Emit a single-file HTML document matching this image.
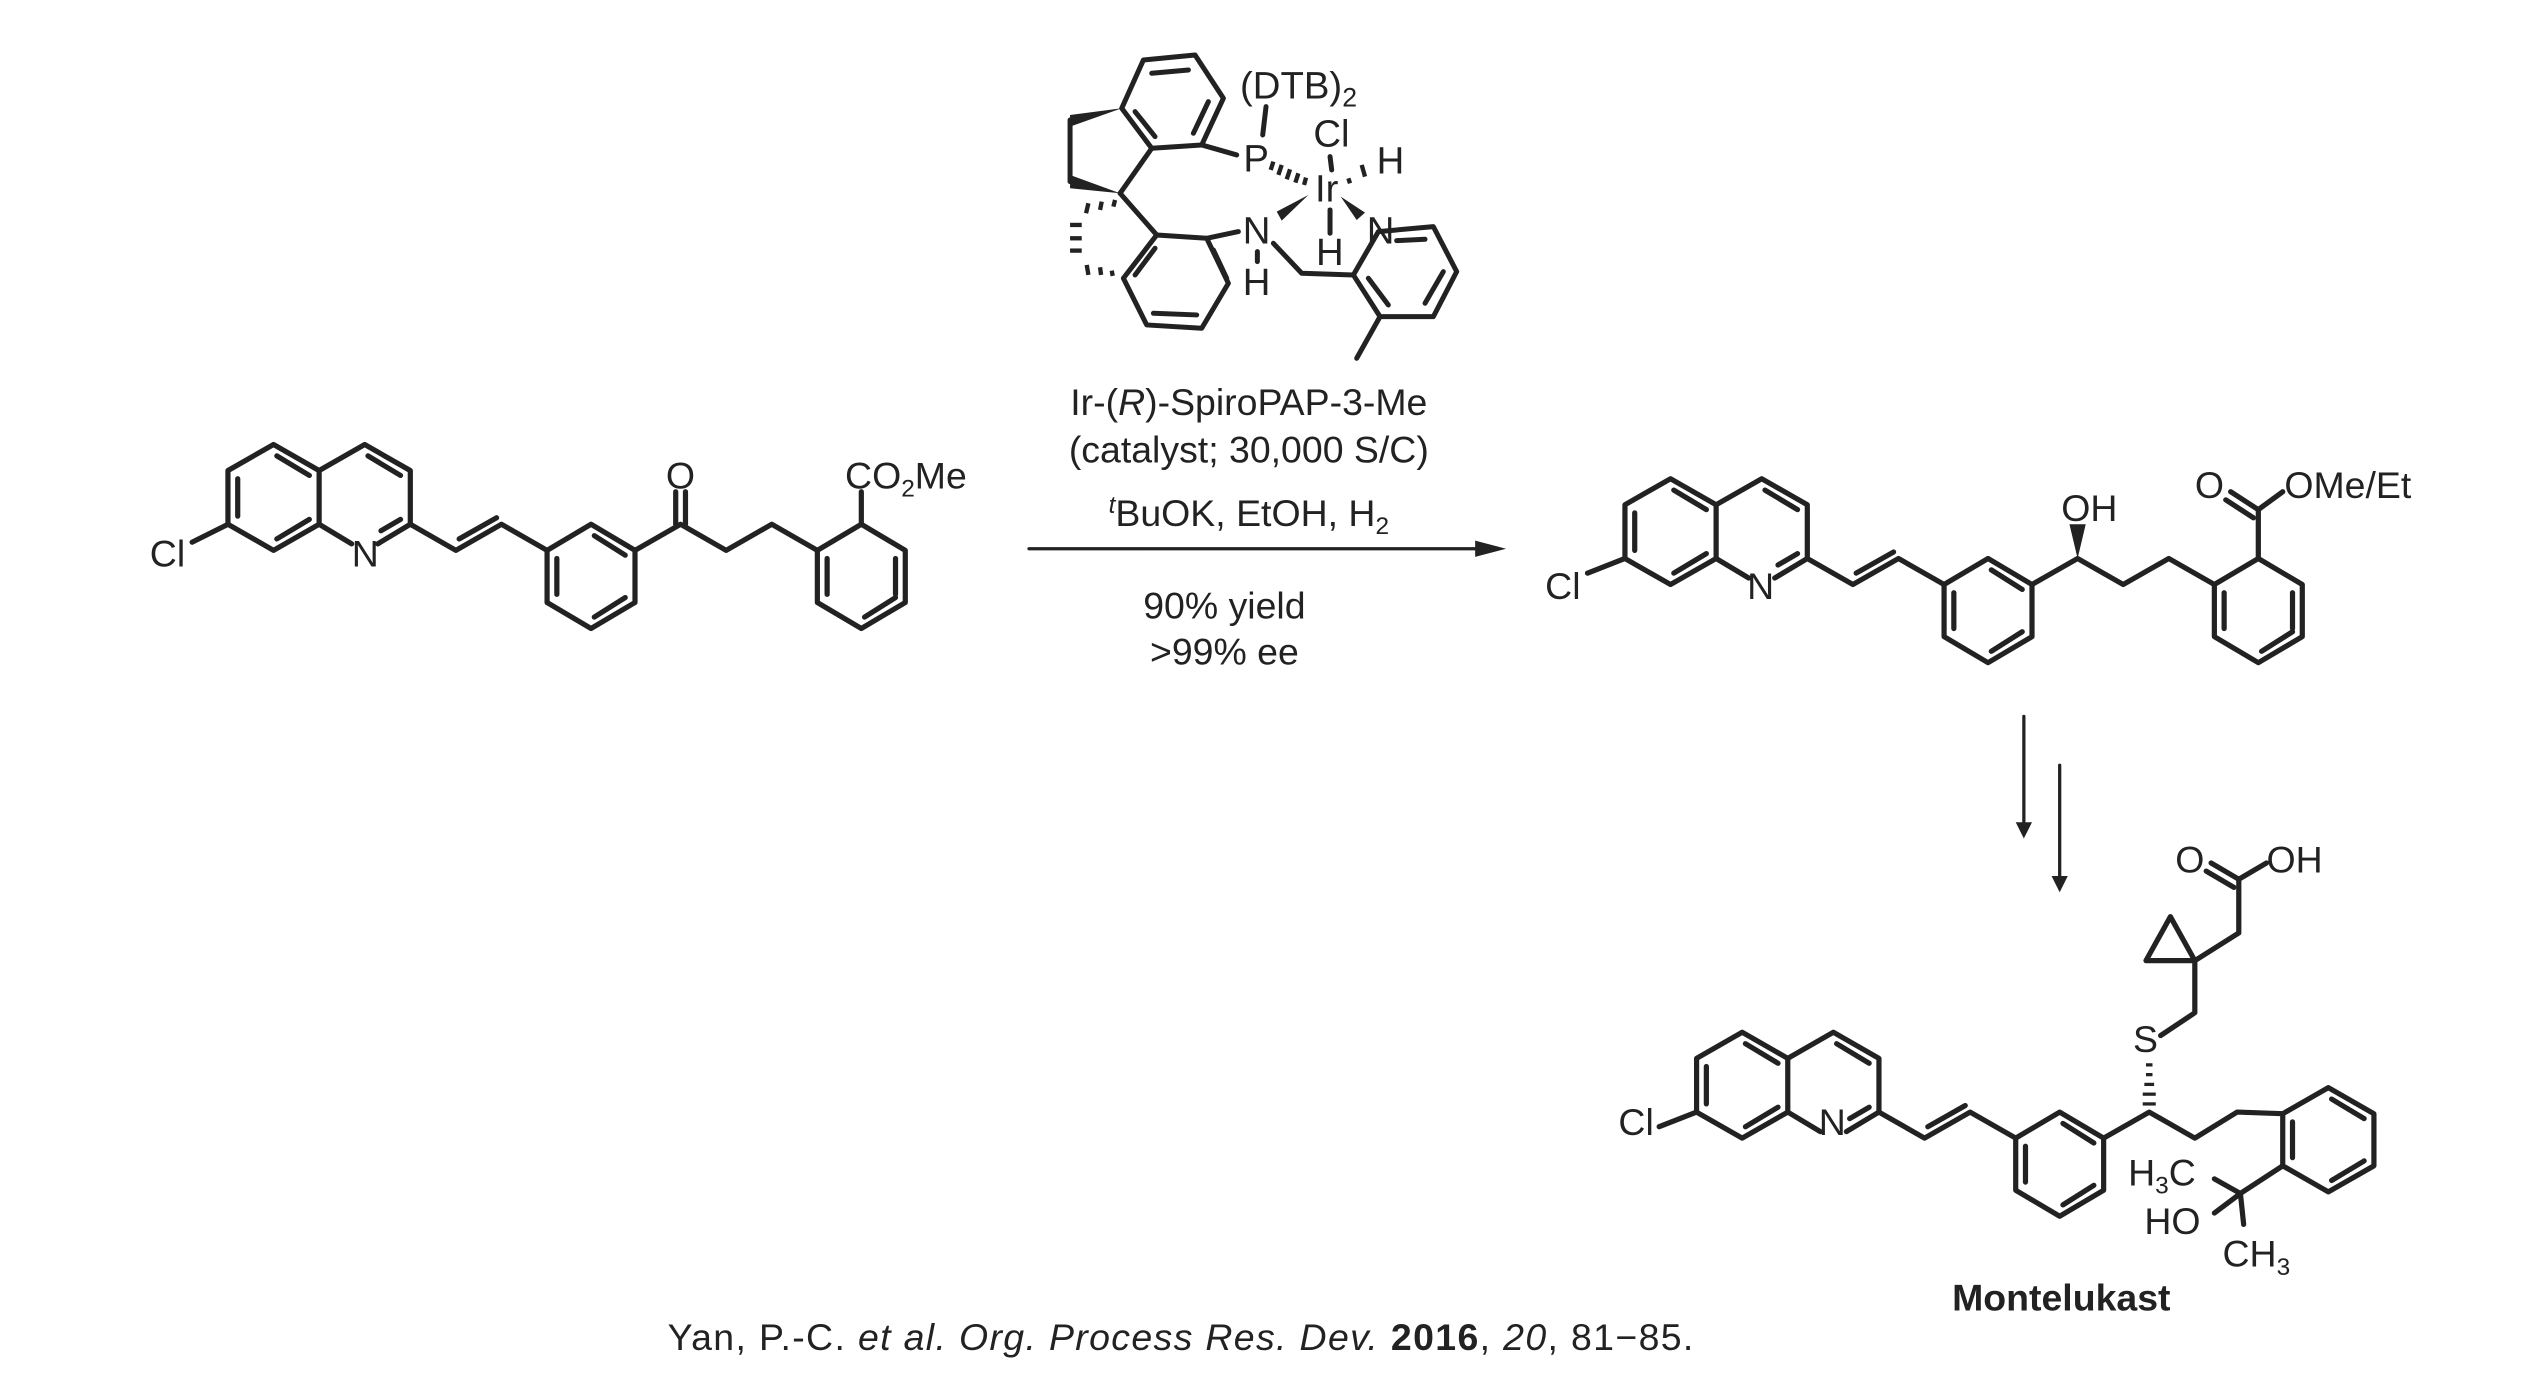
<!DOCTYPE html>
<html><head><meta charset="utf-8"><style>
html,body{margin:0;padding:0;background:#fff}
svg{display:block}
text{font-family:"Liberation Sans",sans-serif;fill:#222}
</style></head><body>
<svg width="2540" height="1384" viewBox="0 0 1560 850" xmlns="http://www.w3.org/2000/svg">
<g stroke="#222" stroke-width="3.2" fill="none" stroke-linejoin="round" stroke-linecap="round">
<!-- LEFT MOLECULE -->
<polygon points="140,289 168,273 196,289 196,322 168,338 140,322"/>
<polyline points="196,289 224,273 252,289 252,322 232,334"/>
<line x1="196" y1="322" x2="216" y2="334"/>
<line x1="146" y1="294" x2="146" y2="317"/><line x1="170" y1="280" x2="190" y2="292"/><line x1="170" y1="331" x2="190" y2="319"/>
<line x1="226" y1="280" x2="246" y2="292"/><line x1="246" y1="319" x2="234" y2="326"/>
<line x1="118" y1="333" x2="140" y2="322"/>
<polyline points="252,322 280,338 308,322 336,338"/>
<line x1="282" y1="331" x2="305" y2="318"/>
<polygon points="336,338 363,322 390,338 390,370 363,386 336,370"/>
<line x1="342" y1="343" x2="342" y2="365"/><line x1="365" y1="329" x2="384" y2="341"/><line x1="365" y1="379" x2="384" y2="367"/>
<polyline points="390,338 418,322 446,338 474,322 502,338"/>
<line x1="415" y1="322" x2="415" y2="302"/><line x1="421" y1="322" x2="421" y2="302"/>
<polygon points="502,338 529,322 556,338 556,370 529,386 502,370"/>
<line x1="550" y1="343" x2="550" y2="365"/><line x1="508" y1="343" x2="508" y2="365"/><line x1="531" y1="379" x2="550" y2="367"/>
<line x1="529" y1="322" x2="529" y2="302"/>
<!-- ARROW -->
<line x1="632" y1="337" x2="912" y2="337" stroke-width="2"/>
<!-- PRODUCT -->
<polygon points="998,310 1026,294 1054,310 1054,343 1026,359 998,343"/>
<polyline points="1054,310 1082,294 1110,310 1110,343 1090,355"/>
<line x1="1054" y1="343" x2="1074" y2="355"/>
<line x1="1004" y1="315" x2="1004" y2="338"/><line x1="1028" y1="301" x2="1048" y2="313"/><line x1="1028" y1="352" x2="1048" y2="340"/>
<line x1="1084" y1="301" x2="1104" y2="313"/><line x1="1104" y1="340" x2="1092" y2="347"/>
<line x1="975" y1="352" x2="998" y2="343"/>
<polyline points="1110,343 1138,359 1166,343 1194,359"/>
<line x1="1140" y1="352" x2="1163" y2="339"/>
<polygon points="1194,359 1221,343 1248,359 1248,391 1221,407 1194,391"/>
<line x1="1200" y1="364" x2="1200" y2="386"/><line x1="1223" y1="350" x2="1242" y2="362"/><line x1="1223" y1="400" x2="1242" y2="388"/>
<polyline points="1248,359 1276,343 1304,359 1332,343 1360,359"/>
<polygon points="1360,359 1387,343 1414,359 1414,391 1387,407 1360,391"/>
<line x1="1408" y1="364" x2="1408" y2="386"/><line x1="1366" y1="364" x2="1366" y2="386"/><line x1="1389" y1="400" x2="1408" y2="388"/>
<line x1="1387" y1="343" x2="1387" y2="313"/>
<line x1="1387" y1="313" x2="1370" y2="302"/><line x1="1384" y1="318" x2="1367" y2="307"/>
<line x1="1387" y1="313" x2="1402" y2="302"/>
<!-- down arrows -->
<line x1="1243" y1="440" x2="1243" y2="505" stroke-width="2"/>
<line x1="1265" y1="470" x2="1265" y2="538" stroke-width="2"/>
<!-- MONTELUKAST -->
<polygon points="1042,650 1070,634 1098,650 1098,683 1070,699 1042,683"/>
<polyline points="1098,650 1126,634 1154,650 1154,683 1134,695"/>
<line x1="1098" y1="683" x2="1118" y2="695"/>
<line x1="1048" y1="655" x2="1048" y2="678"/><line x1="1072" y1="641" x2="1092" y2="653"/><line x1="1072" y1="692" x2="1092" y2="680"/>
<line x1="1128" y1="641" x2="1148" y2="653"/><line x1="1148" y1="680" x2="1136" y2="687"/>
<line x1="1019" y1="692" x2="1042" y2="683"/>
<polyline points="1154,683 1182,699 1210,683 1238,699"/>
<line x1="1184" y1="692" x2="1207" y2="679"/>
<polygon points="1238,699 1265,683 1292,699 1292,731 1265,747 1238,731"/>
<line x1="1244" y1="704" x2="1244" y2="726"/><line x1="1267" y1="690" x2="1286" y2="702"/><line x1="1267" y1="740" x2="1286" y2="728"/>
<polyline points="1292,699 1320,683 1348,699 1374,683 1402,684"/>
<polygon points="1402,684 1430,668 1458,684 1458,716 1430,732 1402,716"/>
<line x1="1408" y1="689" x2="1408" y2="711"/><line x1="1432" y1="675" x2="1452" y2="687"/><line x1="1432" y1="725" x2="1452" y2="713"/>
<line x1="1402" y1="716" x2="1376" y2="733"/>
<line x1="1376" y1="733" x2="1360" y2="724"/><line x1="1376" y1="733" x2="1360" y2="745"/><line x1="1376" y1="733" x2="1378" y2="752"/>
<polyline points="1327,636 1348,622 1348,590"/>
<polygon points="1348,590 1318,590 1333,563"/>
<polyline points="1348,590 1375,573 1375,540 1392,530"/>
<line x1="1375" y1="540" x2="1358" y2="530"/><line x1="1372" y1="545" x2="1355" y2="535"/>
</g>
<g stroke="#222" stroke-width="2">
<line x1="1316" y1="678" x2="1324" y2="678"/><line x1="1316" y1="672" x2="1324" y2="672"/><line x1="1317" y1="666" x2="1323" y2="666"/><line x1="1318" y1="660" x2="1322" y2="660"/><line x1="1318" y1="654" x2="1322" y2="654"/>
</g>
<polygon points="1276,343 1271,322 1281,322" fill="#222"/>
<polygon points="906,332 925,337 906,342" fill="#222"/>
<polygon points="1238,505 1243,515 1248,505" fill="#222"/>
<polygon points="1260,538 1265,548 1270,538" fill="#222"/>
<!-- labels -->
<g font-size="23">
<text x="92" y="348">Cl</text>
<text x="216" y="348">N</text>
<text x="409" y="300">O</text>
<text x="519" y="300">CO<tspan font-size="15" dy="5">2</tspan><tspan dy="-5">Me</tspan></text>
<text x="949" y="368">Cl</text>
<text x="1073" y="368">N</text>
<text x="1266" y="320">OH</text>
<text x="1348" y="306">O</text>
<text x="1403" y="306">OMe/Et</text>
<text x="994" y="697">Cl</text>
<text x="1117" y="697">N</text>
<text x="1310" y="646">S</text>
<text x="1336" y="536">O</text>
<text x="1392" y="536">OH</text>
<text x="1307" y="728">H<tspan font-size="15" dy="5">3</tspan><tspan dy="-5">C</tspan></text>
<text x="1317" y="758">HO</text>
<text x="1365" y="778">CH<tspan font-size="15" dy="5">3</tspan></text>
<text x="1266" y="805" text-anchor="middle" font-weight="bold">Montelukast</text>
<text x="767" y="255" text-anchor="middle">Ir-(<tspan font-style="italic">R</tspan>)-SpiroPAP-3-Me</text>
<text x="767" y="284" text-anchor="middle">(catalyst; 30,000 S/C)</text>
<text x="767" y="323" text-anchor="middle"><tspan font-size="15" font-style="italic" dy="-8">t</tspan><tspan dy="8">BuOK, EtOH, H</tspan><tspan font-size="15" dy="5">2</tspan></text>
<text x="752" y="380" text-anchor="middle">90% yield</text>
<text x="752" y="408" text-anchor="middle">&gt;99% ee</text>
<text x="410" y="829" textLength="630" lengthAdjust="spacing">Yan, P.-C. <tspan font-style="italic">et al. Org. Process Res. Dev.</tspan> <tspan font-weight="bold">2016</tspan>, <tspan font-style="italic">20</tspan>, 81−85.</text>
</g>
<!-- CATALYST -->
<g transform="translate(626.5,18.4) scale(0.2047)">
<g stroke="#222" stroke-width="15" fill="none" stroke-linejoin="round" stroke-linecap="round">
<polygon points="370,90 525,75 610,205 545,345 395,355 305,235"/>
<line x1="395" y1="130" x2="505" y2="120"/><line x1="565" y1="215" x2="520" y2="310"/><line x1="345" y1="245" x2="405" y2="320"/>
<line x1="150" y1="270" x2="150" y2="455"/>
<line x1="395" y1="355" x2="300" y2="490"/>
<polygon points="410,615 560,625 625,760 545,895 380,885 310,745"/>
<line x1="580" y1="660" x2="620" y2="745"/><line x1="400" y1="850" x2="530" y2="855"/><line x1="345" y1="735" x2="405" y2="655"/>
<line x1="300" y1="490" x2="410" y2="615"/>
<line x1="545" y1="345" x2="650" y2="375"/>
<line x1="738" y1="230" x2="728" y2="315"/>
<line x1="560" y1="625" x2="655" y2="605"/>
<line x1="712" y1="665" x2="712" y2="695"/>
<line x1="930" y1="540" x2="930" y2="610"/>
<polyline points="760,640 845,730 1000,735"/>
<polygon points="1000,735 1075,605 1240,590 1310,725 1240,860 1080,860"/>
<line x1="1130" y1="632" x2="1215" y2="628"/><line x1="1045" y1="745" x2="1105" y2="825"/><line x1="1215" y1="820" x2="1270" y2="725"/>
<line x1="1080" y1="860" x2="1010" y2="985"/>
<line x1="930" y1="380" x2="935" y2="420"/>
</g>
<g stroke="#222" stroke-width="13" stroke-linecap="butt">
<line x1="285" y1="510" x2="280" y2="530"/><line x1="245" y1="515" x2="240" y2="540"/><line x1="205" y1="520" x2="198" y2="550"/>
<line x1="150" y1="585" x2="185" y2="585"/><line x1="150" y1="625" x2="185" y2="625"/><line x1="150" y1="662" x2="185" y2="662"/>
<line x1="200" y1="705" x2="205" y2="735"/><line x1="240" y1="712" x2="243" y2="735"/><line x1="275" y1="722" x2="278" y2="738"/>
<line x1="760" y1="395" x2="752" y2="420"/><line x1="785" y1="405" x2="775" y2="435"/><line x1="810" y1="418" x2="800" y2="448"/><line x1="835" y1="430" x2="826" y2="458"/><line x1="858" y1="443" x2="852" y2="465"/>
<line x1="1025" y1="405" x2="1035" y2="440"/><line x1="985" y1="445" x2="990" y2="460"/>
</g>
<g fill="#222">
<polygon points="305,235 150,255 150,290"/>
<polygon points="300,490 150,435 150,475"/>
<polygon points="865,495 770,545 785,572"/>
<polygon points="962,500 1010,570 1035,548"/>
</g>
<g font-size="115">
<text x="660" y="205">(DTB)<tspan font-size="80" dy="25">2</tspan></text>
<text x="670" y="425">P</text>
<text x="880" y="350">Cl</text>
<text x="1070" y="430">H</text>
<text x="885" y="515">Ir</text>
<text x="668" y="640">N</text>
<text x="668" y="795">H</text>
<text x="888" y="705">H</text>
<text x="1040" y="640">N</text>
</g>
</g>
</svg>
</body></html>
